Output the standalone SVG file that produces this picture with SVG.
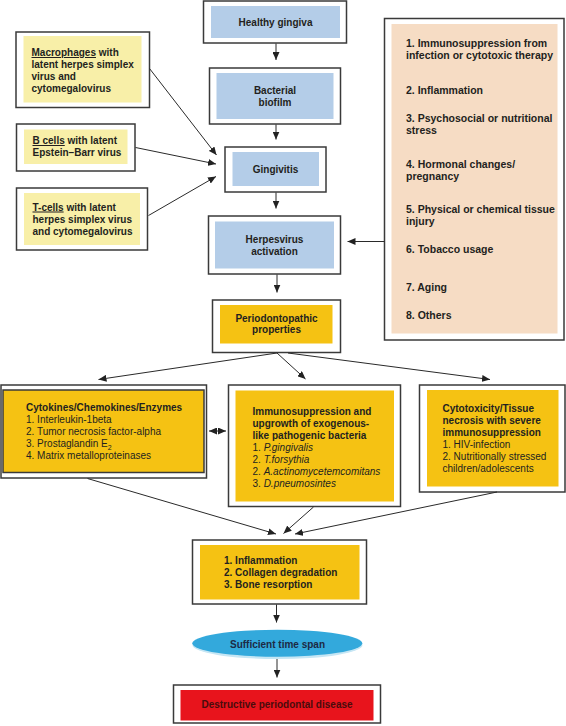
<svg xmlns="http://www.w3.org/2000/svg" width="566" height="726" viewBox="0 0 566 726">
<defs>
<marker id="ah" viewBox="0 0 8 7" refX="8" refY="3.5" markerWidth="8" markerHeight="7" markerUnits="userSpaceOnUse" orient="auto-start-reverse">
<path d="M0,0 L8,3.5 L0,7 z" fill="#222"/>
</marker>
<style>
.outer{fill:#fff;stroke:#3a3a3a;stroke-width:1.5}
.blue{fill:#b4cde8}
.pale{fill:#f8efa8}
.gold{fill:#f5c213}
.peach{fill:#f6dcc4}
.red{fill:#e8141c}
text{font-family:"Liberation Sans",Arial,sans-serif;font-size:10px;fill:#231f20}
.b{font-weight:bold}
.c{text-anchor:middle}
.i{font-style:italic}
.f{font-size:10.5px}
.conn line,.conn path{stroke:#2a2a2a;stroke-width:1;fill:none;marker-end:url(#ah)}
</style>
</defs>
<rect width="566" height="726" fill="#fff"/>

<g id="healthy">
<rect class="outer" x="203.5" y="1" width="143" height="42"/>
<rect class="blue" x="211" y="6" width="129" height="32"/>
<text class="b c" x="275.5" y="26">Healthy gingiva</text>
</g>

<g id="biofilm">
<rect class="outer" x="209.5" y="68" width="131" height="56"/>
<rect class="blue" x="216.5" y="73" width="117" height="46"/>
<text class="b c" x="275" y="94">Bacterial</text>
<text class="b c" x="275" y="105.5">biofilm</text>
</g>

<g id="gingivitis">
<rect class="outer" x="225" y="147" width="101" height="45"/>
<rect class="blue" x="232.5" y="152" width="86.5" height="34"/>
<text class="b c" x="275.5" y="172.5">Gingivitis</text>
</g>

<g id="herpes">
<rect class="outer" x="208.5" y="216" width="132" height="58"/>
<rect class="blue" x="215" y="221.5" width="119" height="47"/>
<text class="b c" x="274.5" y="243">Herpesvirus</text>
<text class="b c" x="274.5" y="254.5">activation</text>
</g>

<g id="periodonto">
<rect class="outer" x="212.5" y="300" width="128" height="52.5"/>
<rect class="gold" x="220" y="305" width="112.5" height="38.5"/>
<text class="b c" x="276.5" y="321.5">Periodontopathic</text>
<text class="b c" x="276.5" y="333">properties</text>
</g>

<g id="macrophages">
<rect class="outer" x="16" y="32" width="133.5" height="75.5"/>
<rect class="pale" x="23.5" y="36" width="118" height="66.5"/>
<text class="b" x="31.5" y="56"><tspan text-decoration="underline">Macrophages</tspan> with</text>
<text class="b" x="31.5" y="67.5">latent herpes simplex</text>
<text class="b" x="31.5" y="79.5">virus and</text>
<text class="b" x="31.5" y="91.5">cytomegalovirus</text>
</g>

<g id="bcells">
<rect class="outer" x="16.5" y="124" width="118.5" height="47"/>
<rect class="pale" x="24" y="129.5" width="103.5" height="34.5"/>
<text class="b" x="32.5" y="144"><tspan text-decoration="underline">B cells</tspan> with latent</text>
<text class="b" x="32.5" y="156">Epstein–Barr virus</text>
</g>

<g id="tcells">
<rect class="outer" x="16.5" y="188" width="131" height="62"/>
<rect class="pale" x="24" y="193" width="116" height="52"/>
<text class="b" x="32.5" y="210.5"><tspan text-decoration="underline">T-cells</tspan> with latent</text>
<text class="b" x="32.5" y="222.5">herpes simplex virus</text>
<text class="b" x="32.5" y="234.5">and cytomegalovirus</text>
</g>

<g id="factors">
<rect class="outer" x="384.5" y="18.5" width="179.5" height="321.5"/>
<rect class="peach" x="391.5" y="24" width="166" height="309.5"/>
<text class="b f" x="406" y="47">1. Immunosuppression from</text>
<text class="b f" x="406" y="58.5">infection or cytotoxic therapy</text>
<text class="b f" x="406" y="93.5">2. Inflammation</text>
<text class="b f" x="406" y="121.5">3. Psychosocial or nutritional</text>
<text class="b f" x="406" y="133.5">stress</text>
<text class="b f" x="406" y="167.5">4. Hormonal changes/</text>
<text class="b f" x="406" y="180">pregnancy</text>
<text class="b f" x="406" y="213">5. Physical or chemical tissue</text>
<text class="b f" x="406" y="225">injury</text>
<text class="b f" x="406" y="252.5">6. Tobacco usage</text>
<text class="b f" x="406" y="291">7. Aging</text>
<text class="b f" x="406" y="319">8. Others</text>
</g>

<g id="cytokines">
<rect class="outer" x="1" y="385" width="205.5" height="93"/>
<rect class="gold" x="3" y="390" width="201" height="82.5" stroke="#3a3a3a" stroke-width="1.5"/>
<text class="b" x="26" y="411">Cytokines/Chemokines/Enzymes</text>
<text x="26" y="423">1. Interleukin-1beta</text>
<text x="26" y="435">2. Tumor necrosis factor-alpha</text>
<text x="26" y="447">3. Prostaglandin E<tspan font-size="7" dy="3">2</tspan></text>
<text x="26" y="459">4. Matrix metalloproteinases</text>
</g>

<g id="immuno">
<rect class="outer" x="228.5" y="385" width="172" height="121.5"/>
<rect class="gold" x="235.5" y="390.5" width="158.5" height="111"/>
<text class="b" x="252.5" y="414.5">Immunosuppression and</text>
<text class="b" x="252.5" y="426.5">upgrowth of exogenous-</text>
<text class="b" x="252.5" y="438.5">like pathogenic bacteria</text>
<text x="252.5" y="450.5">1. <tspan class="i">P.gingivalis</tspan></text>
<text x="252.5" y="462.5">2. <tspan class="i">T.forsythia</tspan></text>
<text x="252.5" y="474.5">2. <tspan class="i">A.actinomycetemcomitans</tspan></text>
<text x="252.5" y="486.5">3. <tspan class="i">D.pneumosintes</tspan></text>
</g>

<g id="cytotox">
<rect class="outer" x="419.5" y="385" width="145.5" height="107"/>
<rect class="gold" x="427" y="390" width="131.5" height="96.5"/>
<text class="b" x="442.5" y="412">Cytotoxicity/Tissue</text>
<text class="b" x="442.5" y="424">necrosis with severe</text>
<text class="b" x="442.5" y="436">immunosuppression</text>
<text x="442.5" y="448">1. HIV-infection</text>
<text x="442.5" y="460">2. Nutritionally stressed</text>
<text x="442.5" y="472">children/adolescents</text>
</g>

<g id="outcomes">
<rect class="outer" x="192.5" y="540" width="174" height="64"/>
<rect class="gold" x="200" y="545" width="159.5" height="54.5"/>
<text class="b" x="224" y="564">1. Inflammation</text>
<text class="b" x="224" y="576">2. Collagen degradation</text>
<text class="b" x="224" y="587.5">3. Bone resorption</text>
</g>

<g id="timespan">
<ellipse cx="277.5" cy="645" rx="85" ry="14" fill="#c6e6f4"/>
<ellipse cx="277.3" cy="643.3" rx="85" ry="13.5" fill="#33a9dc"/>
<text class="b c" x="277.5" y="647.5" style="fill:#1d2a44">Sufficient time span</text>
</g>

<g id="destructive">
<rect class="outer" x="173.5" y="685" width="207" height="38"/>
<rect class="red" x="180.5" y="690" width="193" height="30.5"/>
<text class="b c" x="277" y="708" style="fill:#4a0c0c">Destructive periodontal disease</text>
</g>

<g class="conn" id="connectors">
<line x1="276" y1="43.5" x2="276" y2="60"/>
<line x1="276" y1="124.5" x2="276" y2="139.5"/>
<line x1="276" y1="192.5" x2="276" y2="208.5"/>
<line x1="277" y1="274.5" x2="277" y2="292.5"/>
<line x1="149.5" y1="68.5" x2="216.5" y2="155"/>
<line x1="135.5" y1="147.5" x2="216" y2="164"/>
<line x1="148.5" y1="215.5" x2="216" y2="176.5"/>
<line x1="384.5" y1="241.5" x2="347.5" y2="241.5"/>
<line x1="277" y1="353" x2="98.5" y2="379.5"/>
<line x1="277" y1="353" x2="305.5" y2="379"/>
<line x1="288" y1="353" x2="490" y2="379.5"/>
<line x1="209" y1="431" x2="226" y2="431" style="marker-start:url(#ah)"/>
<line x1="87.5" y1="478.5" x2="276" y2="534"/>
<line x1="313.5" y1="507" x2="283.5" y2="533.5"/>
<line x1="497" y1="492" x2="295" y2="534"/>
<line x1="276.5" y1="604.5" x2="276.5" y2="622.5"/>
<line x1="277" y1="659" x2="277" y2="677.5"/>
</g>
</svg>
